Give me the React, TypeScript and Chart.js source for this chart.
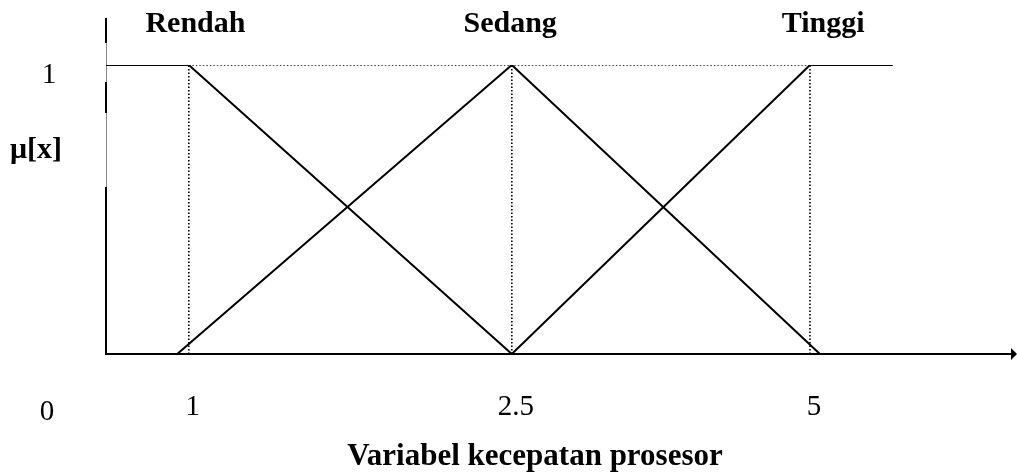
import React, { useEffect, useRef } from "react";
import { Chart, registerables } from "chart.js";

Chart.register(...registerables);

// Membership function breakpoints (drawing units along the x-axis)
const rendahX = [0, 1, 4.9];
const rendahY = [1, 1, 0];
const sedangX = [0.86, 4.9, 8.62];
const sedangY = [0, 1, 0];
const tinggiX = [4.9, 8.5, 9.5];
const tinggiY = [0, 1, 1];

// tick positions and labels
const xTickPos = [1, 4.9, 8.5];
const xTickLabels = ["1", "2.5", "5"];
const setNames = ["Rendah", "Sedang", "Tinggi"];
const setLabelPos = [1.08, 4.88, 8.66];
const guideX = [1, 4.9, 8.5];

const SERIF = "'Liberation Serif', 'Times New Roman', serif";

const pts = (xs: number[], ys: number[]) => xs.map((x, i) => ({ x, y: ys[i] }));

const solid = (label: string, xs: number[], ys: number[]) => ({
  label,
  data: pts(xs, ys),
  showLine: true,
  borderColor: "#000",
  borderWidth: 2,
  pointRadius: 0,
  fill: false,
  tension: 0,
});

const dotted = (label: string, data: { x: number; y: number }[]) => ({
  label,
  data,
  showLine: true,
  borderColor: "#000",
  borderWidth: 1.6,
  borderDash: [1.5, 2],
  pointRadius: 0,
  fill: false,
  tension: 0,
});

const overlayPlugin = {
  id: "overlay",
  beforeDatasetsDraw(chart: any) {
    const ctx = chart.ctx;
    const xs = chart.scales.x;
    const ys = chart.scales.y;
    const x0 = xs.getPixelForValue(0);
    const y0 = ys.getPixelForValue(0);
    ctx.save();
    // thin y-axis line
    ctx.strokeStyle = "#888";
    ctx.lineWidth = 1;
    ctx.beginPath();
    ctx.moveTo(x0 + 0.5, ys.getPixelForValue(1.163));
    ctx.lineTo(x0 + 0.5, y0);
    ctx.stroke();
    // thick segments
    ctx.strokeStyle = "#000";
    ctx.lineWidth = 2;
    const segs = [
      [1.163, 1.08],
      [0.941, 0.837],
      [0.578, 0],
    ];
    segs.forEach(([a, b]) => {
      ctx.beginPath();
      ctx.moveTo(x0, ys.getPixelForValue(a));
      ctx.lineTo(x0, ys.getPixelForValue(b) + 1);
      ctx.stroke();
    });
    // x axis
    const xEnd = chart.chartArea.right;
    ctx.beginPath();
    ctx.moveTo(x0 - 1, y0);
    ctx.lineTo(xEnd - 4, y0);
    ctx.stroke();
    ctx.fillStyle = "#000";
    ctx.beginPath();
    ctx.moveTo(xEnd, y0);
    ctx.lineTo(xEnd - 6, y0 - 6);
    ctx.lineTo(xEnd - 6, y0 + 6);
    ctx.closePath();
    ctx.fill();
    ctx.restore();
  },
  afterDraw(chart: any) {
    const ctx = chart.ctx;
    const xs = chart.scales.x;
    ctx.save();
    ctx.fillStyle = "#000";
    ctx.textAlign = "center";
    ctx.textBaseline = "alphabetic";
    // set names
    ctx.font = `bold 30px ${SERIF}`;
    setNames.forEach((n, i) => {
      ctx.fillText(n, xs.getPixelForValue(setLabelPos[i]), 32);
    });
    // x tick labels
    ctx.font = `29px ${SERIF}`;
    xTickLabels.forEach((t, i) => {
      ctx.fillText(t, xs.getPixelForValue(xTickPos[i]) + 4, 415);
    });
    // y labels
    ctx.fillText("1", 49, 83);
    ctx.fillText("0", 47, 420);
    ctx.font = `bold 30px ${SERIF}`;
    ctx.fillText("μ[x]", 36, 158);
    // x title
    ctx.font = `bold 31px ${SERIF}`;
    ctx.fillText("Variabel kecepatan prosesor", 535, 465);
    ctx.restore();
  },
};

export default function App() {
  const ref = useRef<HTMLCanvasElement | null>(null);
  useEffect(() => {
    if (!ref.current) return;
    const guides = [
      dotted("h", [
        { x: guideX[0], y: 1 },
        { x: guideX[guideX.length - 1], y: 1 },
      ]),
      ...guideX.map((g, i) =>
        dotted("v" + i, [
          { x: g, y: 0 },
          { x: g, y: 1 },
        ])
      ),
    ];
    const chart = new Chart(ref.current, {
      type: "scatter",
      data: {
        datasets: [
          ...guides,
          solid("Rendah", rendahX, rendahY),
          solid("Sedang", sedangX, sedangY),
          solid("Tinggi", tinggiX, tinggiY),
        ] as any,
      },
      options: {
        animation: false,
        responsive: false,
        devicePixelRatio: 1,
        layout: { padding: { left: 106, top: 65, right: 0, bottom: 121 } },
        plugins: { legend: { display: false }, tooltip: { enabled: false } },
        scales: {
          x: { type: "linear", min: 0, max: 11, display: false },
          y: { type: "linear", min: 0, max: 1, display: false },
        },
        elements: { line: { borderCapStyle: "butt" } },
      },
      plugins: [overlayPlugin],
    });
    return () => chart.destroy();
  }, []);
  return (
    <div style={{ position: "fixed", left: 0, top: 0, width: 1017, height: 475, background: "#fff" }}>
      <canvas ref={ref} width={1017} height={475} />
    </div>
  );
}
